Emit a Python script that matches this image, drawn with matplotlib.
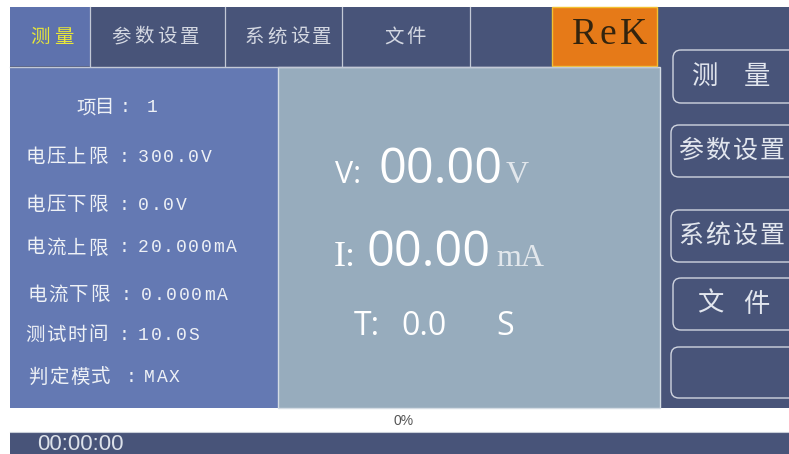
import matplotlib
matplotlib.use("Agg")
import matplotlib.pyplot as plt
from matplotlib.patches import Rectangle, FancyBboxPatch

# ---- content ----
tab_labels = ["测量", "参数设置", "系统设置", "文件", "", "ReK"]
param_names = ["项目", "电压上限", "电压下限", "电流上限", "电流下限", "测试时间", "判定模式"]
param_values = ["1", "300.0V", "0.0V", "20.000mA", "0.000mA", "10.0S", "MAX"]
side_buttons = ["测量", "参数设置", "系统设置", "文件", ""]
voltage_reading = "00.00"
current_reading = "00.00"
time_reading = "0.0"
progress_text = "0%"
clock_text = "00:00:00"

# ---- colours ----
NAVY = "#485479"
TAB_ACTIVE = "#5E72AD"
LEFT_BG = "#6479B3"
CENTER_BG = "#97ACBD"
ORANGE = "#E67A18"
LINE = "#C3C9D6"
TXT = "#EEF1F6"
TAB_TXT = "#D4D8E2"
YELLOW = "#E8E63A"

CJK = ["Noto Sans CJK SC", "DejaVu Sans"]

W, H = 789, 454
fig = plt.figure(figsize=(W / 100, H / 100), dpi=100)
fig.patch.set_facecolor("white")
ax = fig.add_axes([0, 0, 1, 1])
ax.set_xlim(0, W)
ax.set_ylim(H, 0)
ax.axis("off")


def rect(x0, y0, x1, y1, fc, ec="none", lw=0, z=1):
    ax.add_patch(Rectangle((x0, y0), x1 - x0, y1 - y0, facecolor=fc,
                           edgecolor=ec, linewidth=lw, zorder=z))


def chars(text, centers, y, **kw):
    for ch, cx in zip(text, centers):
        ax.text(cx, y, ch, ha="center", va="center", **kw)


# ---- background blocks ----
rect(10, 7, W, 408, NAVY)                       # top bar + right column
rect(10, 67, 278, 408, LEFT_BG, z=2)
rect(278, 67, 660, 408, CENTER_BG, ec="#D4DCE4", lw=1.0, z=2)
rect(10, 7, 90, 66, TAB_ACTIVE, z=2)
rect(552, 7, 657, 66, ORANGE, ec="#F2C030", lw=1.0, z=2)
ax.plot([10, 657], [66.5, 66.5], color=LINE, lw=1.0, zorder=3)
for sx in [90, 225, 342, 470]:
    ax.plot([sx, sx], [7, 66], color=LINE, lw=0.9, zorder=3)
rect(10, 432, W, H, NAVY)
ax.plot([10, W], [432, 432], color="#C8CED8", lw=0.8, zorder=3)

# ---- tab texts ----
tab_centers = [[40, 64], [121, 144, 167, 190], [254, 277, 300, 322], [394, 416]]
for i, lab in enumerate(tab_labels[:4]):
    chars(lab, tab_centers[i], 37, fontsize=14, family=CJK,
          color=YELLOW if i == 0 else TAB_TXT, zorder=4)
chars(tab_labels[5], [584, 608, 633], 35, fontsize=27, family="Liberation Serif",
      color="#33240E", zorder=4)

# ---- left panel: parameters ----
row_y = [108, 157, 205, 248, 295, 335, 377]
row_x0 = [86, 35, 35, 35, 37, 35, 38]
row_step = [19, 21, 21, 21, 21, 21, 21]
colon_x = [125, 124, 124, 124, 126, 124, 131]
val_x = [146, 137, 137, 137, 140, 137, 143]
for name, val, y, x0, st, cx, vx in zip(param_names, param_values, row_y, row_x0,
                                         row_step, colon_x, val_x):
    chars(name, [x0 + st * k for k in range(len(name))], y, fontsize=14,
          family=CJK, color=TXT, zorder=4)
    ax.text(cx, y, ":", ha="center", va="center", fontsize=13,
            family="Liberation Mono", color=TXT, zorder=4)
    chars(val, [vx + 6.3 + 12.6 * k for k in range(len(val))], y, fontsize=13,
          family="Liberation Mono", color=TXT, zorder=4)

# ---- centre panel: readings ----
ax.text(335, 183, "V:", ha="left", va="baseline", fontsize=22, family="Open Sans",
        color="white", zorder=4)
ax.text(379, 183, voltage_reading, ha="left", va="baseline", fontsize=35,
        family="Open Sans", color="white", zorder=4)
ax.text(506, 183, "V", ha="left", va="baseline", fontsize=23,
        family="Liberation Serif", color="#E2E7EC", zorder=4)

ax.text(334, 266, "I:", ha="left", va="baseline", fontsize=26,
        family="Liberation Serif", color="white", zorder=4)
ax.text(367, 266, current_reading, ha="left", va="baseline", fontsize=35,
        family="Open Sans", color="white", zorder=4)
ax.text(496, 266, "mA", ha="left", va="baseline", fontsize=23,
        family="Liberation Serif", color="#E2E7EC", zorder=4)

ax.text(354, 335, "T:", ha="left", va="baseline", fontsize=23, family="Open Sans",
        color="white", zorder=4)
ax.text(401, 335, time_reading, ha="left", va="baseline", fontsize=23,
        family="Open Sans", color="white", zorder=4)
ax.text(496, 335, "S", ha="left", va="baseline", fontsize=23, family="Open Sans",
        color="white", zorder=4)

# ---- right column buttons ----
btn_y = [(50, 103), (125, 177), (210, 262), (278, 330), (347, 398)]
btn_x0 = [673, 671, 671, 673, 671]
btn_centers = [[705, 757], [691, 718, 745, 772], [691, 718, 745, 772], [710, 756], []]
btn_size = [19, 18, 18, 19, 18]
for lab, (y0, y1), x0, cs, fs in zip(side_buttons, btn_y, btn_x0, btn_centers, btn_size):
    ax.add_patch(FancyBboxPatch((x0 + 8, y0 + 8), 800 - x0 - 16, y1 - y0 - 16,
                                boxstyle="round,pad=8", facecolor="none",
                                edgecolor="#D0D5E0", linewidth=1.0, zorder=4))
    chars(lab, cs, (y0 + y1) / 2, fontsize=fs, family=CJK, color="#E2E6EE", zorder=4)

# ---- footer ----
ax.text(404, 421, progress_text, ha="center", va="center", fontsize=10,
        family="Liberation Sans", color="#555555", zorder=4)
ax.text(37, 445, clock_text, ha="left", va="center", fontsize=16,
        family="Liberation Sans", color="#DDE2EA", zorder=4)

fig.savefig("out.png", dpi=100, facecolor="white")
